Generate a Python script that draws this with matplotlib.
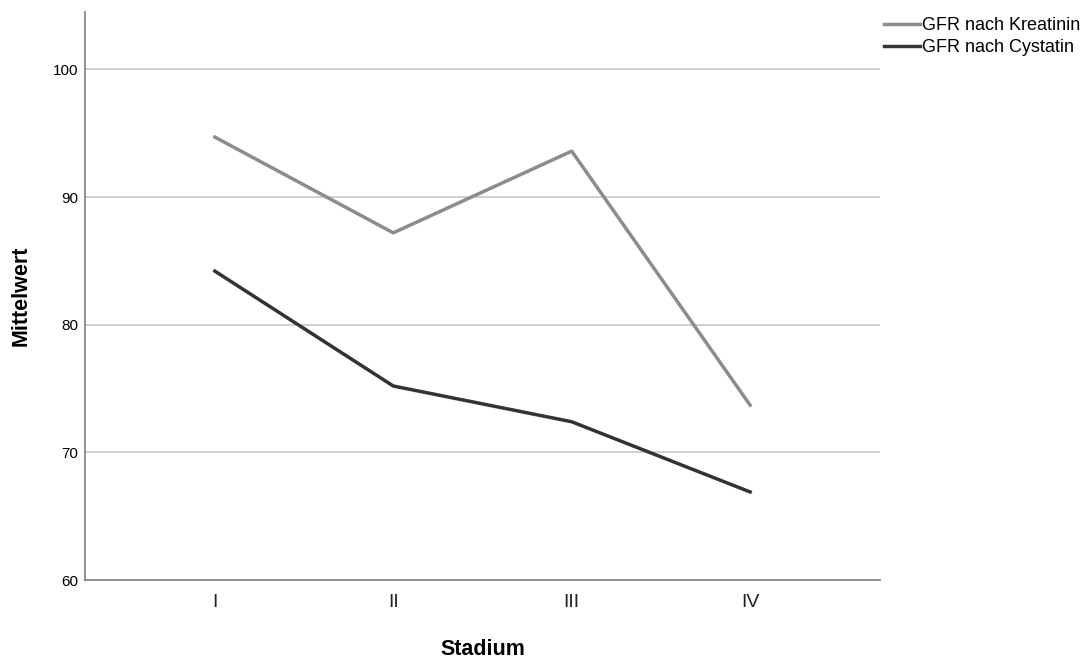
import matplotlib
matplotlib.use('Agg')
from matplotlib import pyplot as plt

# Mittelwerte nach Stadium
stadien = ['I', 'II', 'III', 'IV']
gfr_kreatinin = [94.7, 87.2, 93.6, 73.7]
gfr_cystatin = [84.2, 75.2, 72.4, 66.9]
y_ticks = [60, 70, 80, 90, 100]

plt.rcParams['font.family'] = ['Liberation Sans', 'DejaVu Sans']

fig = plt.figure(figsize=(10.91, 6.61), dpi=100)
ax = fig.add_axes([0.0779, 0.1225, 0.7287, 0.8593])

x = range(len(stadien))
ax.plot(x, gfr_kreatinin, color='#8c8c8c', lw=2.5, label='GFR nach Kreatinin',
        solid_joinstyle='round')
ax.plot(x, gfr_cystatin, color='#333333', lw=2.5, label='GFR nach Cystatin',
        solid_joinstyle='round')

ax.set_xlim(-0.728, 3.728)
ax.set_ylim(60, 104.5)
ax.set_xticks(list(x))
ax.set_xticklabels(stadien, fontsize=14, color='#222222')
ax.set_yticks(y_ticks)
ax.set_yticklabels([str(v) for v in y_ticks], fontsize=11)
ax.tick_params(axis='both', length=0)
ax.tick_params(axis='x', pad=10)
ax.tick_params(axis='y', pad=5)

ax.grid(axis='y', color='#cccccc', lw=1.3)
ax.set_axisbelow(True)
for s in ['top', 'right']:
    ax.spines[s].set_visible(False)
for s in ['left', 'bottom']:
    ax.spines[s].set_color('#888888')
    ax.spines[s].set_linewidth(1.3)

ax.set_xlabel('Stadium', fontsize=15.5, fontweight='bold', labelpad=20)
ax.set_ylabel('Mittelwert', fontsize=15.5, fontweight='bold', labelpad=15)

ax.legend(loc='upper left', bbox_to_anchor=(1.0, 0.997), frameon=False,
          fontsize=13, handlelength=2.0, handletextpad=0.15,
          labelspacing=0.25, borderaxespad=0.2, borderpad=0)

fig.savefig('out.png', dpi=100)
